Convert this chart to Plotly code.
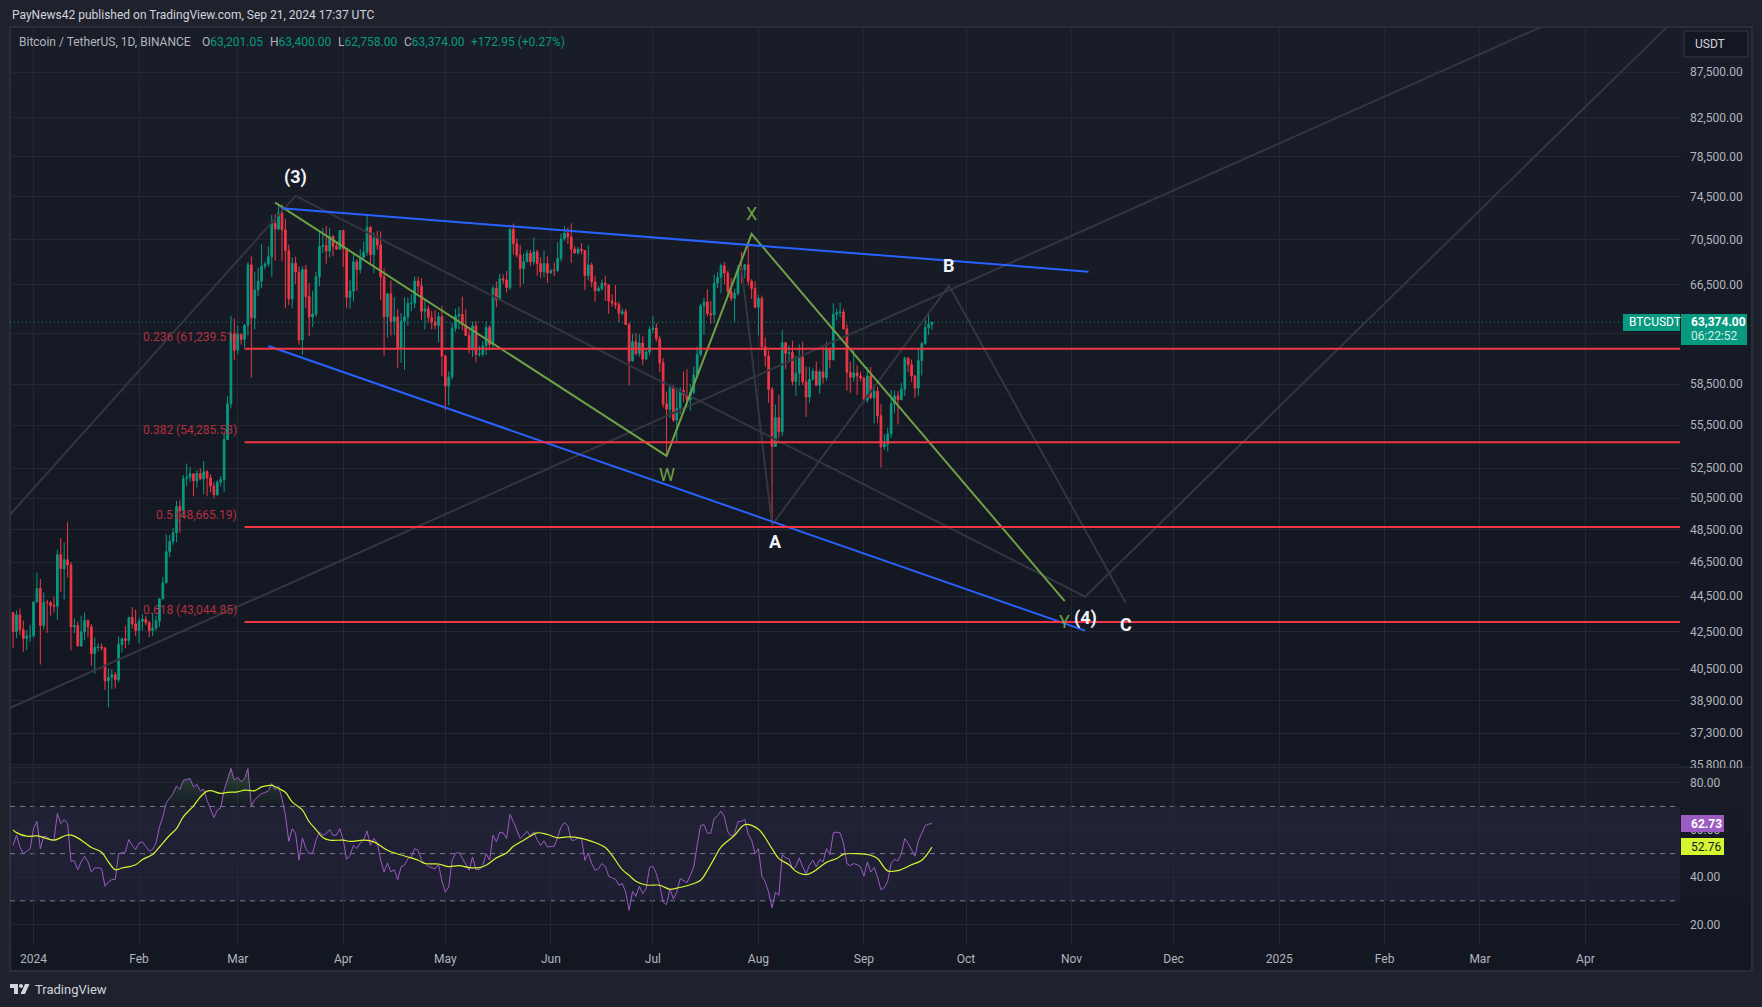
"""
BTCUSDT daily chart with Elliott wave drawings and RSI pane, TradingView dark look.
"""

import numpy as np
import pandas as pd
import plotly.graph_objects as go

W, H = 1762, 1007

# daily candles, 2023-12-26 .. 2024-09-21
first_open = 43578
closes = [
    42520, 43442, 42627, 42142, 42283, 42283,
    44180, 44946, 42845, 44151, 44145, 43968, 43929, 46951, 46110, 46653, 46339, 42782, 42847, 41732, 42511, 43137,
    42776, 41327, 41659, 41680, 41624, 39897, 40084, 40220, 39960, 41816, 42120, 42031, 43302, 42941, 42580,
    43082, 43200, 43011, 42583, 42708, 43099, 44349, 45288, 47132, 47751, 48293, 49958, 49699, 51795, 51880, 52124,
    51642, 52137, 51775, 52258, 51849, 51300, 50738, 51571, 51730, 54476, 57037, 62432, 61130,
    62387, 61987, 63113, 68245, 63724, 66074, 66823, 68124, 68313, 68955, 72000, 71470, 73000, 71388, 69499, 65300,
    68393, 67609, 61937, 67840, 65501, 63796, 64037, 67211, 69880, 69988, 69469, 70780, 69897, 69645, 71333,
    69702, 65446, 65980, 68508, 67837, 68896, 69360, 71620, 69146, 70631, 70007, 67195, 63818, 65738, 63426, 63812,
    61277, 63470, 63818, 64941, 64960, 66837, 66407, 64276, 64481, 63755, 63419, 63113, 63841, 60672,
    58364, 59060, 62882, 63892, 64012, 63165, 62312, 61193, 63074, 60799, 60825, 61483, 62940, 61577, 66206, 65235,
    67024, 66915, 66274, 71447, 70136, 69122, 67929, 68526, 69265, 68518, 69395, 68366, 67635, 68354, 67540,
    67766, 67765, 68809, 70568, 71082, 70757, 69648, 69310, 69648, 69508, 67321, 68243, 66756, 66011, 66191, 66639,
    66490, 65140, 64960, 64828, 64096, 64245, 63180, 60277, 61806, 60864, 61706, 60427, 60986, 62772,
    62900, 62023, 60145, 57042, 56639, 58231, 55857, 56714, 58050, 57725, 57339, 57889, 59204, 60797, 64724, 65043,
    64087, 63987, 66660, 67139, 68165, 67532, 65936, 65372, 65777, 67912, 67813, 68255, 66819, 66201, 64619,
    65357, 61415, 60680, 58116, 53991, 56034, 55027, 61710, 60881, 60945, 58712, 59346, 60587, 58683, 57541, 58874,
    59491, 58427, 59438, 59013, 61156, 60375, 64037, 64157, 64220, 62834, 59415, 59034, 59359, 59123, 58973,
    57301, 59132, 57487, 57970, 56180, 53962, 54160, 54869, 57042, 57635, 57339, 58132, 60498, 59993, 59132, 58213,
    60309, 61649, 62940, 63201, 63374,
]
highs = [
    43604, 43683, 43804, 43124, 42603, 42899,
    44184, 45879, 45500, 44729, 44300, 44214, 44480, 47248, 47972, 47695, 48969, 46515, 43257, 43079, 43400, 43578,
    43198, 42930, 42196, 41870, 41884, 41689, 40555, 40498, 40350, 42250, 42200, 42842, 43333, 43882, 43745,
    43285, 43488, 43381, 43119, 43550, 43399, 44396, 45614, 48200, 48170, 48592, 50334, 50368, 52043, 52816, 52572,
    52163, 52345, 52488, 52985, 52366, 52088, 51548, 51700, 51960, 54938, 57588, 63913, 63676,
    63114, 62433, 63231, 68499, 69000, 67641, 67980, 70083, 68541, 69887, 72800, 72850, 73650, 73777, 72419, 70043,
    68904, 68956, 68124, 68100, 68240, 66649, 65999, 67622, 71150, 71561, 71769, 71552, 70916, 70355, 71366,
    71366, 69708, 66914, 69291, 68725, 69629, 70326, 72797, 71758, 71172, 71305, 71256, 67931, 65840, 66878,
    65450, 64486, 64125, 65450, 65419, 65700, 67233, 67199, 67075, 65275, 64789, 64320, 64360, 64174, 64734,
    60780, 59480, 63320, 64500, 64646, 65500, 64422, 63000, 63421, 63470, 61490, 61860, 63450, 63118, 66444, 66800,
    67451, 67400, 67700, 71515, 71979, 70623, 70041, 69250, 69563, 69562, 70687, 69590, 68900, 69500, 69000,
    67860, 68460, 70288, 71063, 71758, 71600, 71997, 69914, 69850, 70195, 69563, 69999, 68450, 67294, 66402, 66966,
    67298, 66578, 65727, 66484, 65066, 64520, 64491, 63369, 62435, 62480, 62385, 62227, 61224, 63058,
    63861, 63288, 62282, 60498, 57950, 58475, 58447, 58236, 58296, 59470, 59650, 58526, 59850, 61420, 64900, 65388,
    66128, 65133, 67386, 67598, 68366, 68474, 67750, 67102, 66175, 68200, 69399, 68318, 70079, 66998, 66821,
    65659, 65596, 62150, 61100, 58305, 57000, 57726, 62745, 61800, 61488, 61888, 60700, 61578, 61800, 59849, 59817,
    59700, 60236, 59617, 61400, 61820, 61400, 64955, 64494, 65000, 64481, 63212, 60234, 61166, 59944, 59462,
    59054, 59809, 59809, 58519, 58327, 57008, 54850, 55318, 58088, 58044, 57981, 58588, 60625, 60610, 60395, 59210,
    61320, 61786, 63850, 64133, 63400,
]
lows = [
    41637, 42167, 42318, 41424, 41517, 41965,
    42180, 44148, 40750, 42629, 42450, 43397, 43572, 43175, 44748, 44300, 45606, 41500, 42436, 41720, 41718, 42050,
    42200, 40683, 40280, 41446, 41500, 39431, 38555, 39486, 39500, 39825, 41394, 41620, 41804, 42683, 42276,
    41884, 42575, 42880, 42222, 42258, 42574, 42788, 44331, 45242, 46800, 47557, 47710, 48300, 49225, 51314, 51566,
    50625, 51200, 51677, 50760, 50625, 50900, 50500, 50640, 51280, 50901, 54450, 56700, 60364,
    60777, 61561, 61320, 62300, 59005, 62779, 65551, 66230, 67861, 68094, 67194, 68620, 71333, 68555, 64533, 64780,
    64533, 66565, 61555, 60775, 64529, 62260, 63000, 63825, 66385, 69280, 68359, 68903, 69009, 69565, 69562,
    68062, 64540, 64493, 65064, 66011, 67491, 68824, 69043, 68210, 67518, 69567, 65254, 60660, 62134, 62302,
    62320, 59768, 60125, 59600, 63090, 64282, 64548, 65800, 63589, 62783, 63322, 62793, 62800, 61765, 59120,
    56552, 56937, 58848, 62599, 62822, 62700, 62261, 60888, 60610, 60187, 60620, 60600, 60749, 61142, 61319, 64600,
    65106, 66600, 65857, 66060, 69162, 68900, 66312, 66600, 68460, 68128, 68240, 67278, 67075, 67120, 66670,
    67450, 67257, 67612, 68568, 70400, 70120, 68420, 69222, 69126, 69172, 66051, 66902, 66304, 65078, 65886, 66000,
    65130, 64060, 64666, 64500, 63379, 63929, 63178, 58402, 60241, 60712, 60606, 59985, 60383, 60712,
    62497, 61806, 59400, 56771, 53485, 56018, 55724, 54260, 56289, 57157, 57050, 56542, 57756, 59194, 60632, 62373,
    63854, 63238, 63300, 66222, 65777, 66559, 65441, 65111, 63456, 65600, 66650, 67066, 66428, 65302, 64524,
    62302, 61133, 59850, 57122, 49000, 53962, 54558, 54730, 59650, 60288, 58408, 57642, 58392, 58433, 56078, 57098,
    58785, 58433, 57787, 58548, 58783, 59724, 60342, 63531, 63773, 62800, 58034, 57860, 58713, 57703, 58744,
    57120, 57120, 57415, 55606, 55643, 52550, 53745, 53629, 54591, 56386, 55545, 57324, 57632, 59400, 58691, 57493,
    57610, 59174, 61555, 62350, 62758,
]

# RSI, one reading per candle
rsi = [
    53.5, 57.8, 52.8, 50.0, 51.0, 52.0,
    60.6, 63.7, 52.0, 57.4, 57.0, 56.0, 55.8, 67.0, 62.7, 64.4, 62.7, 46.8, 46.9, 43.2, 46.5, 48.9,
    46.5, 42.2, 43.9, 44.0, 43.6, 36.2, 38.0, 39.0, 39.0, 50.0, 50.3, 50.7, 56.0, 53.5, 51.7,
    54.5, 55.0, 53.0, 51.1, 51.7, 54.5, 61.3, 65.6, 71.5, 73.4, 75.5, 78.6, 77.2, 81.1, 81.4, 81.8,
    78.3, 79.4, 76.6, 77.3, 72.6, 69.1, 65.3, 68.4, 69.4, 76.9, 81.8, 86.1, 81.1,
    82.5, 80.4, 81.8, 86.0, 70.1, 72.9, 74.3, 75.5, 75.9, 76.6, 79.7, 77.2, 78.6, 73.4, 66.3, 55.2,
    60.6, 58.5, 47.2, 56.7, 52.1, 50.0, 50.3, 55.7, 59.2, 57.8, 58.5, 60.2, 57.8, 57.8, 60.6,
    55.7, 47.6, 49.3, 53.5, 52.1, 54.5, 55.7, 59.6, 53.5, 56.4, 54.5, 47.2, 42.2, 46.0, 42.2,
    43.2, 39.0, 44.4, 45.1, 47.9, 48.6, 52.1, 51.4, 47.2, 45.8, 44.6, 44.1, 43.5, 45.5, 38.4,
    33.7, 35.9, 47.2, 50.0, 50.6, 47.9, 45.8, 42.9, 48.6, 43.2, 43.2, 45.0, 50.0, 47.2, 57.8, 55.0,
    59.0, 58.8, 56.4, 66.6, 63.5, 60.2, 56.4, 57.8, 59.5, 57.4, 59.2, 55.7, 53.5, 55.4, 52.8,
    53.0, 53.1, 57.0, 61.3, 63.2, 61.8, 55.7, 55.7, 56.7, 56.4, 47.2, 50.3, 45.8, 42.9, 43.6, 45.8,
    44.6, 40.4, 39.7, 39.1, 36.6, 37.3, 33.7, 26.0, 34.0, 31.9, 36.2, 33.1, 35.2, 44.1,
    44.6, 41.5, 36.6, 29.5, 28.4, 35.2, 30.8, 33.7, 39.4, 38.7, 37.7, 40.8, 44.4, 53.5, 61.8, 62.3,
    58.8, 58.5, 64.9, 66.0, 68.0, 65.6, 59.2, 57.4, 58.5, 63.6, 63.7, 64.6, 58.2, 55.7, 50.0,
    52.1, 40.5, 38.0, 33.7, 27.0, 33.7, 32.3, 49.6, 48.2, 47.8, 43.6, 44.4, 48.2, 44.4, 41.5, 45.1,
    47.2, 44.4, 47.5, 46.5, 52.1, 49.6, 58.8, 59.1, 58.8, 54.5, 45.8, 44.9, 45.8, 45.3, 44.4,
    40.4, 46.5, 42.2, 44.1, 40.1, 34.7, 35.6, 38.4, 45.8, 47.6, 46.9, 50.0, 56.4, 54.3, 51.7, 48.9,
    55.4, 58.8, 61.9, 62.5, 62.73,
]

# RSI moving average, read at its bends
ma_dates = [
    "2023-12-26", "2023-12-27", "2023-12-30", "2024-01-02", "2024-01-04", "2024-01-07", "2024-01-09", "2024-01-11",
    "2024-01-13", "2024-01-16", "2024-01-18", "2024-01-21", "2024-01-23", "2024-01-25", "2024-01-27", "2024-01-31",
    "2024-02-02", "2024-02-05", "2024-02-07", "2024-02-10", "2024-02-12", "2024-02-14", "2024-02-17", "2024-02-19",
    "2024-02-21", "2024-02-22", "2024-02-25", "2024-02-27", "2024-03-01", "2024-03-03", "2024-03-06", "2024-03-08",
    "2024-03-11", "2024-03-13", "2024-03-15", "2024-03-17", "2024-03-20", "2024-03-22", "2024-03-24", "2024-03-26",
    "2024-03-28", "2024-04-01", "2024-04-03", "2024-04-07", "2024-04-10", "2024-04-14", "2024-04-19", "2024-04-23",
    "2024-04-25", "2024-04-29", "2024-05-02", "2024-05-05", "2024-05-08", "2024-05-11", "2024-05-13", "2024-05-16",
    "2024-05-19", "2024-05-21", "2024-05-24", "2024-05-28", "2024-05-31", "2024-06-03", "2024-06-06", "2024-06-10",
    "2024-06-13", "2024-06-17", "2024-06-19", "2024-06-22", "2024-06-24", "2024-06-26", "2024-06-29", "2024-07-03",
    "2024-07-06", "2024-07-08", "2024-07-11", "2024-07-15", "2024-07-17", "2024-07-19", "2024-07-21", "2024-07-25",
    "2024-07-28", "2024-08-01", "2024-08-05", "2024-08-07", "2024-08-10", "2024-08-12", "2024-08-15", "2024-08-17",
    "2024-08-21", "2024-08-24", "2024-08-26", "2024-08-30", "2024-09-03", "2024-09-05", "2024-09-08", "2024-09-11",
    "2024-09-15", "2024-09-18", "2024-09-21",
]
ma_values = [
    60.1, 58.9, 57.4, 57.5, 56.8, 55.7, 56.8, 57.9,
    57.4, 54.7, 52.6, 50.6, 46.5, 43.2, 43.9, 45.3,
    47.5, 49.6, 52.8, 57.8, 60.6, 65.6, 70.2, 74.0,
    76.5, 76.7, 75.5, 76.0, 76.2, 76.9, 76.7, 78.3,
    78.9, 77.6, 76.0, 71.9, 68.4, 63.5, 60.2, 56.8,
    55.7, 55.7, 55.2, 55.7, 55.0, 51.4, 49.0, 47.2,
    45.8, 45.6, 44.5, 44.9, 44.1, 44.1, 45.1, 48.2,
    50.3, 53.1, 55.7, 58.8, 58.1, 56.7, 57.1, 56.5,
    55.2, 52.6, 49.3, 43.2, 40.8, 38.3, 36.7, 36.6,
    34.9, 35.4, 36.4, 38.7, 42.9, 47.9, 52.8, 57.8,
    62.3, 60.3, 52.1, 47.9, 45.3, 42.5, 41.1, 42.2,
    46.3, 47.9, 49.7, 50.0, 49.3, 47.9, 42.7, 42.8,
    45.3, 47.2, 52.76,
]

# chart drawings
wave_dates = ["2024-03-12", "2024-07-05", "2024-07-30", "2024-10-30"]
wave_prices = [73950, 53336, 71026, 44226]
upper_dates = ["2024-03-14", "2024-11-06"]
upper_prices = [73418, 67650]
lower_dates = ["2024-03-10", "2024-11-05"]
lower_prices = [61466, 42570]
projection_dates = ["2023-12-25", "2024-03-18", "2024-11-05", "2025-04-25"]
projection_prices = [49418, 74590, 44476, 92770]
channel_dates = ["2023-12-25", "2025-03-19"]
channel_prices = [38527, 92770]
abc_dates = ["2024-07-27", "2024-08-05", "2024-09-26", "2024-11-17"]
abc_prices = [68060, 48790, 66440, 44100]

fib_levels = ["0.236", "0.382", "0.5", "0.618"]
fib_prices = [61239.51, 54285.53, 48665.19, 43044.85]
fib_start = "2024-03-03"

last_price = 63374

wave_labels = ["(3)", "A", "B", "C", "(4)"]
wave_label_dates = ["2024-03-18", "2024-08-06", "2024-09-26", "2024-11-17", "2024-11-05"]
wave_label_prices = [76440, 47730, 68230, 42930, 43270]
sub_labels = ["W", "X", "Y"]
sub_label_dates = ["2024-07-05", "2024-07-30", "2024-10-30"]
sub_label_prices = [52040, 72940, 43050]

price_ticks = [87500, 82500, 78500, 74500, 70500, 66500, 62500, 58500, 55500, 52500, 50500, 48500, 46500, 44500,
               42500, 40500, 38900, 37300, 35800]
rsi_ticks = [80, 60, 40, 20]
month_ticks = ["2024-01-01", "2024-02-01", "2024-03-01", "2024-04-01", "2024-05-01", "2024-06-01", "2024-07-01",
               "2024-08-01", "2024-09-01", "2024-10-01", "2024-11-01", "2024-12-01", "2025-01-01", "2025-02-01",
               "2025-03-01", "2025-04-01"]
month_labels = ["2024", "Feb", "Mar", "Apr", "May", "Jun", "Jul", "Aug", "Sep", "Oct", "Nov", "Dec", "2025", "Feb",
                "Mar", "Apr"]

UP = "#089981"
DOWN = "#f23645"
GRID = "#242833"
BORDER = "#2a2e39"
GRAY = "#34353f"
BLUE = "#2962ff"
GREEN = "#6ea045"
PURPLE = "#9c5bc0"
YELLOW = "#d4f52f"
TEXT = "#b2b5be"
FONT = "Roboto"

dates = pd.date_range("2023-12-26", periods=len(closes))
opens = [first_open] + closes[:-1]
x_range = ["2023-12-25 02:00", "2025-04-28 19:00"]


def px(x):
    return x / W


def py(y):
    return 1 - y / H


def draw_line(dates_, prices, color, width):
    fig.add_trace(go.Scatter(x=dates_, y=prices, mode="lines", line=dict(color=color, width=width),
                             hoverinfo="skip", showlegend=False))


def page_text(x, y, text, size=12, color=TEXT, anchor="left"):
    fig.add_annotation(x=px(x), y=py(y), xref="paper", yref="paper", text=text, showarrow=False,
                       xanchor=anchor, yanchor="middle", font=dict(size=size, color=color, family=FONT))


def page_box(x0, y0, x1, y1, color):
    fig.add_shape(type="rect", xref="paper", yref="paper", x0=px(x0), x1=px(x1), y0=py(y0), y1=py(y1),
                  fillcolor=color, line_width=0, layer="above")


fig = go.Figure()

# pane backgrounds fade from a lighter top to a darker bottom
for top, bottom in [(27, 767), (767, 971)]:
    steps = 12
    for i in range(steps):
        t = i / (steps - 1)
        shade = (int(25 - 6 * t), int(29 - 6 * t), int(40 - 6 * t))
        fig.add_shape(type="rect", xref="paper", yref="paper", layer="below", line_width=0,
                      x0=px(10), x1=px(1752),
                      y0=py(top + (bottom - top) * i / steps), y1=py(top + (bottom - top) * (i + 1) / steps),
                      fillcolor=f"rgb{shade}")

# pane frame and separator
fig.add_shape(type="rect", xref="paper", yref="paper", layer="below", x0=px(10), x1=px(1752), y0=py(27), y1=py(971),
              line=dict(color=BORDER, width=2))
fig.add_shape(type="line", xref="paper", yref="paper", layer="below", x0=px(10), x1=px(1752), y0=py(767), y1=py(767),
              line=dict(color=BORDER, width=1))

# RSI band
fig.add_shape(type="rect", xref="x2 domain", yref="y2", x0=0, x1=1, y0=30, y1=70, layer="below", line_width=0,
              fillcolor="rgba(126,87,194,0.10)")
for level in [70, 50, 30]:
    fig.add_shape(type="line", xref="x2 domain", yref="y2", x0=0, x1=1, y0=level, y1=level, layer="below",
                  line=dict(color="#787b86", width=1, dash="5px,5px"))

fig.add_trace(go.Candlestick(
    x=dates, open=opens, high=highs, low=lows, close=closes,
    increasing=dict(line=dict(color=UP, width=1), fillcolor=UP),
    decreasing=dict(line=dict(color=DOWN, width=1), fillcolor=DOWN),
    whiskerwidth=0, hoverinfo="skip", showlegend=False,
))

# last price line
fig.add_trace(go.Scatter(x=[x_range[0], "2025-04-12"], y=[last_price, last_price], mode="lines",
                         line=dict(color=UP, width=1, dash="1px,3px"), hoverinfo="skip", showlegend=False))

draw_line(projection_dates, projection_prices, GRAY, 2)
draw_line(channel_dates, channel_prices, GRAY, 2)
draw_line(abc_dates, abc_prices, GRAY, 2)
draw_line(wave_dates, wave_prices, GREEN, 2)
draw_line(upper_dates, upper_prices, BLUE, 2)
draw_line(lower_dates, lower_prices, BLUE, 2)
for p in fib_prices:
    draw_line([fib_start, x_range[1]], [p, p], DOWN, 2)

# fib labels end just before the level lines start
for level, p in zip(fib_levels, fib_prices):
    fig.add_annotation(x=fib_start, y=np.log10(p), xref="x", yref="y", text=f"{level} ({p:,.2f})", showarrow=False,
                       xanchor="right", yanchor="bottom", xshift=-6, yshift=3,
                       font=dict(size=12, color="#b5303f", family=FONT))

for text, d, p in zip(wave_labels, wave_label_dates, wave_label_prices):
    fig.add_annotation(x=d, y=np.log10(p), xref="x", yref="y", text=f"<b>{text}</b>", showarrow=False,
                       font=dict(size=18, color="#f0f3fa", family=FONT))
for text, d, p in zip(sub_labels, sub_label_dates, sub_label_prices):
    fig.add_annotation(x=d, y=np.log10(p), xref="x", yref="y", text=text, showarrow=False,
                       font=dict(size=18, color=GREEN, family=FONT))

# RSI: green fill above the 70 line, then the two lines
fig.add_trace(go.Scatter(x=dates, y=[70] * len(rsi), mode="lines", line=dict(width=0), xaxis="x2", yaxis="y2",
                         hoverinfo="skip", showlegend=False))
fig.add_trace(go.Scatter(x=dates, y=np.maximum(rsi, 70), mode="lines", line=dict(width=0), xaxis="x2", yaxis="y2",
                         fill="tonexty",
                         fillgradient=dict(type="vertical",
                                           colorscale=[[0, "rgba(76,175,80,0)"], [1, "rgba(76,175,80,0.28)"]]),
                         hoverinfo="skip", showlegend=False))
fig.add_trace(go.Scatter(x=dates, y=rsi, mode="lines", line=dict(color=PURPLE, width=1), xaxis="x2", yaxis="y2",
                         hoverinfo="skip", showlegend=False))
fig.add_trace(go.Scatter(x=ma_dates, y=ma_values, mode="lines", line=dict(color=YELLOW, width=1.2, shape="spline"),
                         xaxis="x2", yaxis="y2", hoverinfo="skip", showlegend=False))

# page chrome
page_text(10, 15, "PayNews42 published on TradingView.com, Sep 21, 2024 17:37 UTC", color="#d1d4dc")
page_text(17, 41.5, "Bitcoin / TetherUS, 1D, BINANCE")
for x, prefix, value in [(200, "O", "63,201.05"), (268, "H", "63,400.00"), (336, "L", "62,758.00"),
                         (402, "C", "63,374.00")]:
    page_text(x, 41.5, f"{prefix}<span style='color:{UP}'>{value}</span>")
page_text(469, 41.5, "+172.95 (+0.27%)", color=UP)

# USDT button
fig.add_shape(type="rect", xref="paper", yref="paper", x0=px(1684), x1=px(1748), y0=py(31), y1=py(57),
              fillcolor="#131722", line=dict(color="#363a45", width=1), layer="above")
page_text(1693, 44, "USDT", color="#d1d4dc")

# hides the lower half of the lowest price label at the pane edge
page_box(1681, 768, 1751, 775, "#191d28")

# price tags
page_box(1623, 314, 1680, 331, UP)
page_text(1627, 322.5, "BTCUSDT", color="#ffffff")
page_box(1681, 314, 1747, 345, UP)
page_text(1689, 322, "<b>63,374.00</b>", color="#ffffff")
page_text(1689, 336, "06:22:52", color="#d1f0e8")
page_box(1681, 815, 1724, 832, PURPLE)
page_text(1689, 823.5, "<b>62.73</b>", color="#ffffff")
page_box(1681, 838, 1724, 855, YELLOW)
page_text(1689, 846.5, "52.76", color="#131722")

# footer logo and name
logo = (f"M {px(10)} {py(984)} L {px(18)} {py(984)} L {px(18)} {py(994)} L {px(14)} {py(994)} "
        f"L {px(14)} {py(988)} L {px(10)} {py(988)} Z "
        f"M {px(25)} {py(984)} L {px(29.5)} {py(984)} L {px(25)} {py(994)} L {px(20.5)} {py(994)} Z")
fig.add_shape(type="path", path=logo, xref="paper", yref="paper", fillcolor="#d1d4dc", line_width=0)
fig.add_shape(type="circle", xref="paper", yref="paper", x0=px(19), x1=px(23), y0=py(984), y1=py(988),
              fillcolor="#d1d4dc", line_width=0)
page_text(33, 989.5, "TradingView", size=13, color="#d1d4dc")

fig.update_layout(
    width=W, height=H,
    margin=dict(l=0, r=0, t=0, b=0, pad=0, autoexpand=False),
    paper_bgcolor="#1f222c",
    plot_bgcolor="rgba(0,0,0,0)",
    showlegend=False,
    dragmode=False,
    font=dict(family=FONT, size=12, color=TEXT),
    xaxis=dict(domain=[px(10), px(1680)], type="date", range=x_range, anchor="y",
               rangeslider=dict(visible=False), tickvals=month_ticks, showticklabels=False,
               showgrid=True, gridcolor=GRID, gridwidth=1, zeroline=False, showline=False, ticks=""),
    xaxis2=dict(domain=[px(10), px(1680)], type="date", range=x_range, anchor="y2", matches="x",
                tickvals=month_ticks, ticktext=month_labels, ticks="", ticklabelstandoff=6,
                showgrid=True, gridcolor=GRID, gridwidth=1, zeroline=False, showline=False,
                tickfont=dict(size=12, color=TEXT, family=FONT)),
    yaxis=dict(domain=[py(767), py(27)], type="log", range=[4.55270, 4.96735], side="right", anchor="x",
               tickvals=price_ticks, ticktext=[f"{v:,.2f}" for v in price_ticks], ticks="", ticklabelstandoff=9,
               showgrid=True, gridcolor=GRID, gridwidth=1, zeroline=False, showline=False,
               tickfont=dict(size=12, color=TEXT, family=FONT)),
    yaxis2=dict(domain=[py(944), py(767.5)], range=[11.7, 86.5], side="right", anchor="x2",
                tickvals=rsi_ticks, ticktext=[f"{v:.2f}" for v in rsi_ticks], ticks="", ticklabelstandoff=9,
                showgrid=True, gridcolor=GRID, gridwidth=1, zeroline=False, showline=False,
                tickfont=dict(size=12, color=TEXT, family=FONT)),
)

page_css = ("document.documentElement.style.overflow='hidden';"
            "document.documentElement.style.height='1007px';"
            "document.body.style.margin='0';document.body.style.height='1007px';"
            "document.body.style.overflow='hidden';document.body.style.background='#1f222c';")
fig.write_html("out.html", config={"displayModeBar": False}, post_script=page_css)
